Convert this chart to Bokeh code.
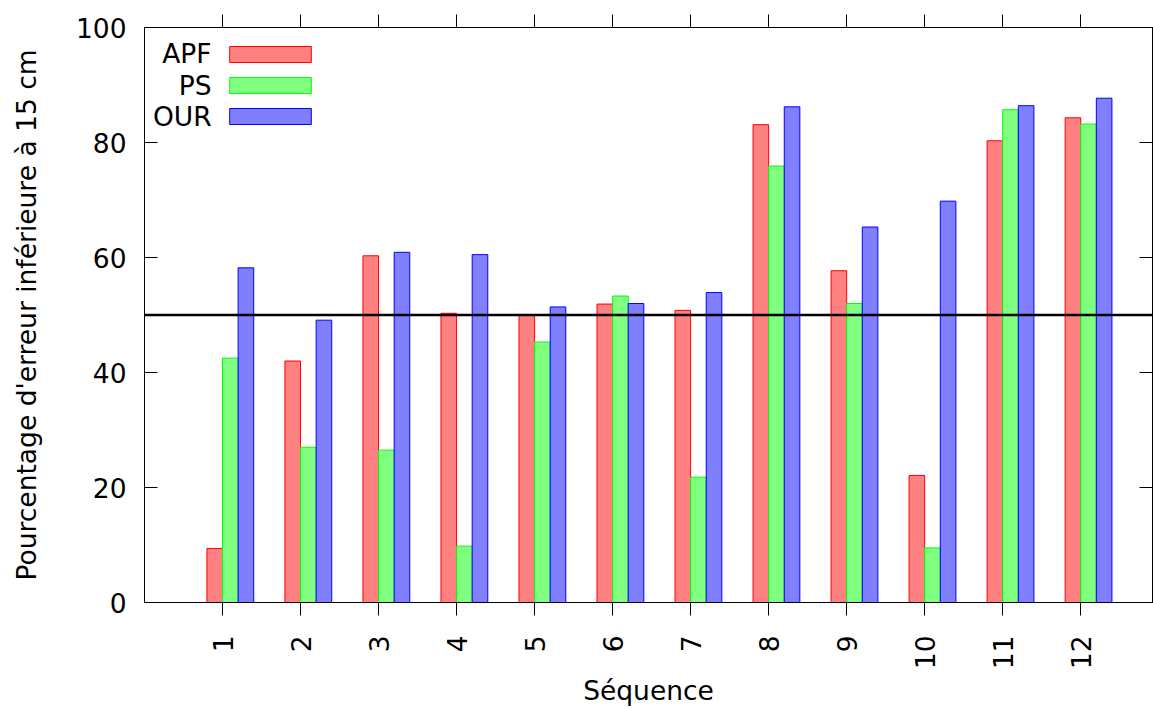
import math

from bokeh.plotting import figure
from bokeh.models import (ColumnDataSource, FixedTicker, LinearAxis, Range1d,
                          Span, Label, Legend, LegendItem)
from bokeh.embed import file_html
from bokeh.resources import INLINE

# Percentage of error below 15 cm, per sequence and per method
sequences = list(range(1, 13))
apf = [9.4, 42.0, 60.3, 50.3, 50.0, 51.9, 50.8, 83.1, 57.7, 22.1, 80.3, 84.3]
ps = [42.5, 27.0, 26.5, 9.8, 45.3, 53.3, 21.8, 75.9, 52.0, 9.5, 85.7, 83.2]
our = [58.2, 49.1, 60.9, 60.5, 51.4, 52.0, 53.9, 86.2, 65.3, 69.8, 86.4, 87.7]
methods = ["APF", "PS", "OUR"]
y_ticks = [0, 20, 40, 60, 80, 100]
threshold = 50

FONT = "DejaVu Sans"
FS = "26.5px"
bar_w = 0.2
offsets = [-0.1, 0.1, 0.3]
fills = ["#ff8080", "#80ff80", "#8080ff"]
lines = ["#ff0000", "#00ff00", "#0000ff"]

p = figure(width=1153, height=709, x_range=Range1d(0, 12.92), y_range=Range1d(0, 100),
           output_backend="svg", toolbar_location=None,
           min_border_left=144, min_border_right=1, min_border_top=27, min_border_bottom=106)
p.xgrid.visible = False
p.ygrid.visible = False
p.outline_line_color = "black"
p.outline_line_width = 1
p.background_fill_color = "white"
p.border_fill_color = "white"

renderers = []
for vals, off, fc, lc in zip([apf, ps, our], offsets, fills, lines):
    src = ColumnDataSource(dict(x=[s + off for s in sequences], top=vals))
    r = p.vbar(x="x", top="top", bottom=0, width=bar_w, source=src,
               fill_color=fc, line_color=lc, line_width=1)
    renderers.append(r)

p.add_layout(Span(location=threshold, dimension="width", line_color="black", line_width=2.5))

# bottom axis
xa = p.xaxis[0]
xa.ticker = FixedTicker(ticks=sequences)
xa.major_tick_in = 0
xa.major_tick_out = 13
xa.minor_tick_line_color = None
xa.major_label_orientation = math.pi / 2
xa.major_label_standoff = 20
xa.major_label_text_font = FONT
xa.major_label_text_font_size = FS
xa.major_label_text_color = "black"
xa.axis_label = "Séquence"
xa.axis_label_text_font = FONT
xa.axis_label_text_font_size = FS
xa.axis_label_text_font_style = "normal"
xa.axis_label_text_color = "black"
xa.axis_label_standoff = 3
xa.axis_line_color = "black"
xa.major_tick_line_color = "black"

# left axis
ya = p.yaxis[0]
ya.ticker = FixedTicker(ticks=y_ticks)
ya.major_tick_in = 13
ya.major_tick_out = 0
ya.minor_tick_line_color = None
ya.major_label_standoff = 18
ya.major_label_text_font = FONT
ya.major_label_text_font_size = FS
ya.major_label_text_color = "black"
ya.axis_label = "Pourcentage d'erreur inférieure à 15 cm"
ya.axis_label_text_font = FONT
ya.axis_label_text_font_size = FS
ya.axis_label_text_font_style = "normal"
ya.axis_label_text_color = "black"
ya.axis_label_standoff = 31
ya.axis_line_color = "black"
ya.major_tick_line_color = "black"

# mirrored tick marks on top and right, without labels
top_ax = LinearAxis(ticker=FixedTicker(ticks=sequences), major_tick_in=0, major_tick_out=13,
                    minor_tick_line_color=None,
                    major_label_overrides={t: "" for t in sequences},
                    axis_line_color="black", major_tick_line_color="black")
p.add_layout(top_ax, "above")
right_ax = LinearAxis(ticker=FixedTicker(ticks=y_ticks), major_tick_in=13, major_tick_out=0,
                      minor_tick_line_color=None,
                      major_label_overrides={t: "" for t in y_ticks},
                      major_label_standoff=0,
                      axis_line_color="black", major_tick_line_color="black")
p.add_layout(right_ax, "right")

# legend keys (names drawn separately, to the left of the keys)
legend = Legend(items=[LegendItem(label=" ", renderers=[r]) for r in renderers],
                location=(75, 476), orientation="vertical",
                glyph_width=102, glyph_height=20, spacing=11, padding=0, margin=0,
                label_standoff=0, label_width=0, label_height=20,
                label_text_font_size="1px",
                background_fill_alpha=0, border_line_alpha=0)
p.add_layout(legend)

legend_y = [95.4, 89.9, 84.5]
for name, ly in zip(methods, legend_y):
    p.add_layout(Label(x=0.86, y=ly, text=name, text_align="right", text_baseline="middle",
                       text_font=FONT, text_font_size=FS, text_color="black"))

open("out.html", "w").write(file_html(p, INLINE))
